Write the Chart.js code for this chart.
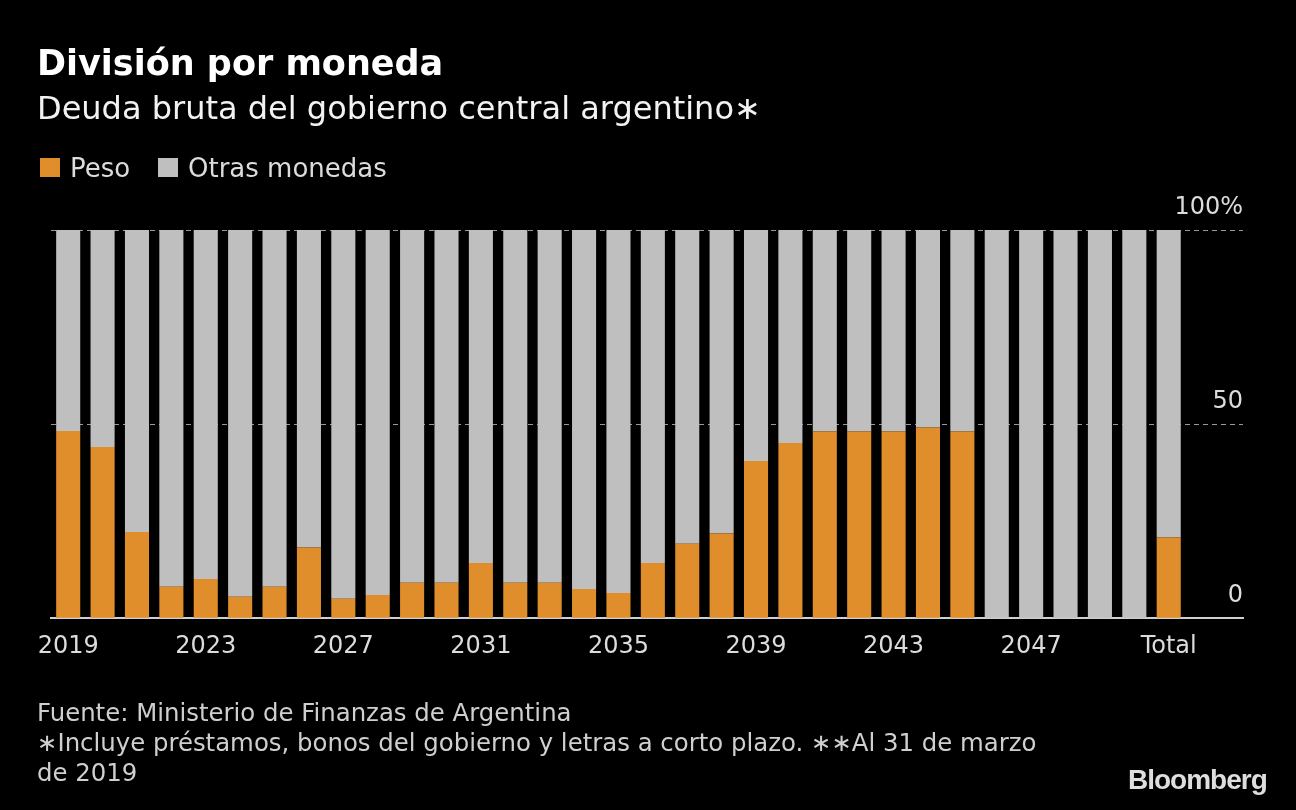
<!DOCTYPE html>
<html>
<head>
<meta charset="utf-8">
<script src="https://cdn.jsdelivr.net/npm/chart.js@4/dist/chart.umd.min.js"></script>
<style>
  html, body { margin: 0; padding: 0; background: #000; width: 1296px; height: 810px; overflow: hidden; }
  body { position: relative; font-family: "DejaVu Sans", sans-serif; }
  .t { position: absolute; white-space: nowrap; }
  #title { left: 37px; top: 46px; font-size: 35px; line-height: 34px; font-weight: bold; color: #fff; }
  #subtitle { left: 37px; top: 92px; font-size: 32px; line-height: 32px; color: #f2f2f2; }
  .sw { position: absolute; width: 20px; height: 19px; top: 158px; }
  .lg { position: absolute; top: 155px; font-size: 26px; line-height: 26px; color: #dcdcdc; }
  #footer { left: 37px; top: 698px; font-size: 24.4px; line-height: 30px; color: #cfcfcf; }
  #logo { left: 1128px; top: 766px; font-family: "Liberation Sans", Arial, sans-serif; font-weight: bold; font-size: 28px; line-height: 28px; letter-spacing: -1px; color: #dedede; }
  #wrap { position: absolute; left: 0; top: 0; width: 1296px; height: 810px; }
</style>
</head>
<body>
<div id="wrap"><canvas id="c" width="1296" height="810"></canvas></div>
<div class="t" id="title">División por moneda</div>
<div class="t" id="subtitle">Deuda bruta del gobierno central argentino∗</div>
<div class="sw" style="left:40px;background:#E08D2B"></div>
<div class="lg" style="left:70px">Peso</div>
<div class="sw" style="left:158px;background:#BFBFBF"></div>
<div class="lg" style="left:188px">Otras monedas</div>
<div class="t" id="footer">Fuente: Ministerio de Finanzas de Argentina<br>∗Incluye préstamos, bonos del gobierno y letras a corto plazo. ∗∗Al 31 de marzo<br>de 2019</div>
<div class="t" id="logo">Bloomberg</div>
<script>
const categories = ["2019","2020","2021","2022","2023","2024","2025","2026","2027","2028",
  "2029","2030","2031","2032","2033","2034","2035","2036","2037","2038",
  "2039","2040","2041","2042","2043","2044","2045","2046","2047","2048",
  "2049","2050","Total"];
const peso = [48.2,44.1,22.2,8.1,10.1,5.5,8.1,18.2,5.0,6.0,
  9.1,9.1,14.2,9.1,9.1,7.5,6.5,14.2,19.2,21.8,
  40.5,45.1,48.1,48.1,48.1,49.1,48.1,0,0,0,
  0,0,20.8];
const otras = [51.8,55.9,77.8,91.9,89.9,94.5,91.9,81.8,95.0,94.0,
  90.9,90.9,85.8,90.9,90.9,92.5,93.5,85.8,80.8,78.2,
  59.5,54.9,51.9,51.9,51.9,50.9,51.9,100,100,100,
  100,100,79.2];
const yTicks = [0, 50, 100];

const toPts = arr => arr.map((v, i) => ({ x: i, y: v }));

new Chart(document.getElementById('c'), {
  type: 'bar',
  data: {
    datasets: [
      { label: 'Peso', data: toPts(peso), backgroundColor: '#E08D2B', borderWidth: 0, categoryPercentage: 1, barPercentage: 0.7 },
      { label: 'Otras monedas', data: toPts(otras), backgroundColor: '#BFBFBF', borderWidth: 0, categoryPercentage: 1, barPercentage: 0.7 }
    ]
  },
  options: {
    responsive: false,
    animation: false,
    devicePixelRatio: 1,
    layout: { padding: { left: 51, right: 53, top: 230, bottom: 135 } },
    plugins: { legend: { display: false }, tooltip: { enabled: false } },
    scales: {
      x: {
        type: 'linear',
        stacked: true,
        offset: false,
        min: -0.5,
        max: 34.16,
        grid: { display: false, drawTicks: false, offset: false },
        border: { display: true, color: '#cfcfcf', width: 2 },
        afterBuildTicks: s => { s.ticks = categories.map((c, i) => ({ value: i })).filter(t => t.value % 4 === 0); },
        ticks: {
          autoSkip: false,
          maxRotation: 0,
          padding: 14,
          color: '#dcdcdc',
          font: { family: 'DejaVu Sans', size: 24 },
          callback: v => categories[v] ?? ''
        }
      },
      y: {
        position: 'right',
        stacked: true,
        min: 0,
        max: 100,
        afterBuildTicks: s => { s.ticks = yTicks.map(v => ({ value: v })); },
        grid: { color: '#999999', lineWidth: 1, drawTicks: false },
        border: { display: false, dash: [5, 4] },
        ticks: {
          mirror: true,
          padding: 0,
          labelOffset: -22,
          color: '#dcdcdc',
          font: { family: 'DejaVu Sans', size: 24 },
          callback: v => v === 100 ? '100%' : String(v)
        }
      }
    }
  }
});
</script>
</body>
</html>
